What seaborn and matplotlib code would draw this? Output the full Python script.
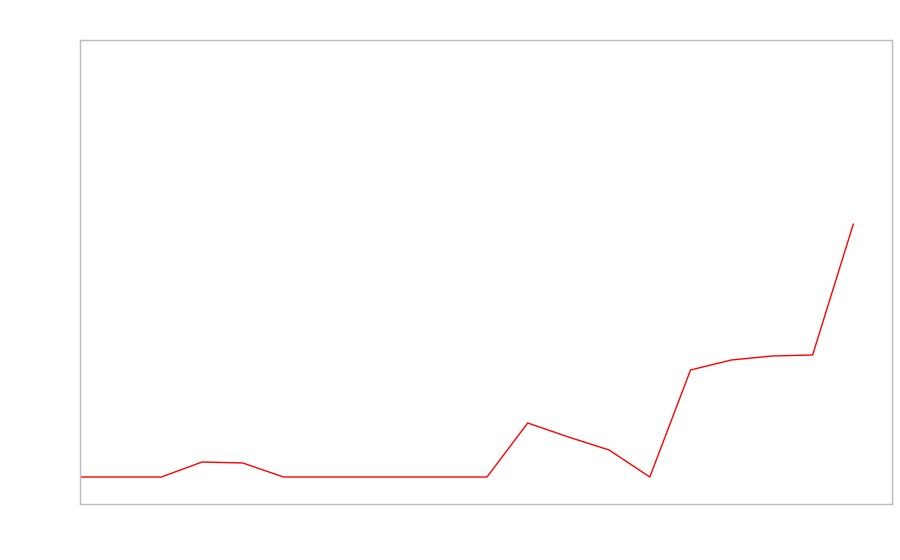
import numpy as np
import pandas as pd
import matplotlib
matplotlib.use('Agg')
import matplotlib.pyplot as plt
import seaborn as sns

# Valores (unidades arbitrárias, linha de base = 0)
steps = list(range(20))
values = [0, 0, 0, 15, 14, 0, 0, 0, 0, 0, 0, 54, 40, 27, 0, 107, 117, 121, 122, 253]

df = pd.DataFrame({'step': steps, 'value': values})

sns.set_style('white')
fig = plt.figure(figsize=(9, 5.6), dpi=100)
ax = fig.add_axes([80 / 900, 56 / 560, 812 / 900, 464 / 560])

sns.lineplot(data=df, x='step', y='value', color='red', linewidth=1, ax=ax)

ax.set_xlim(0, 19.95)
ax.set_ylim(-27, 437)
ax.set_xticks([])
ax.set_yticks([])
ax.set_xlabel('')
ax.set_ylabel('')
for sp in ax.spines.values():
    sp.set_color('#bbbbbb')
    sp.set_linewidth(1)

fig.savefig('out.png', dpi=100)
plt.close()
